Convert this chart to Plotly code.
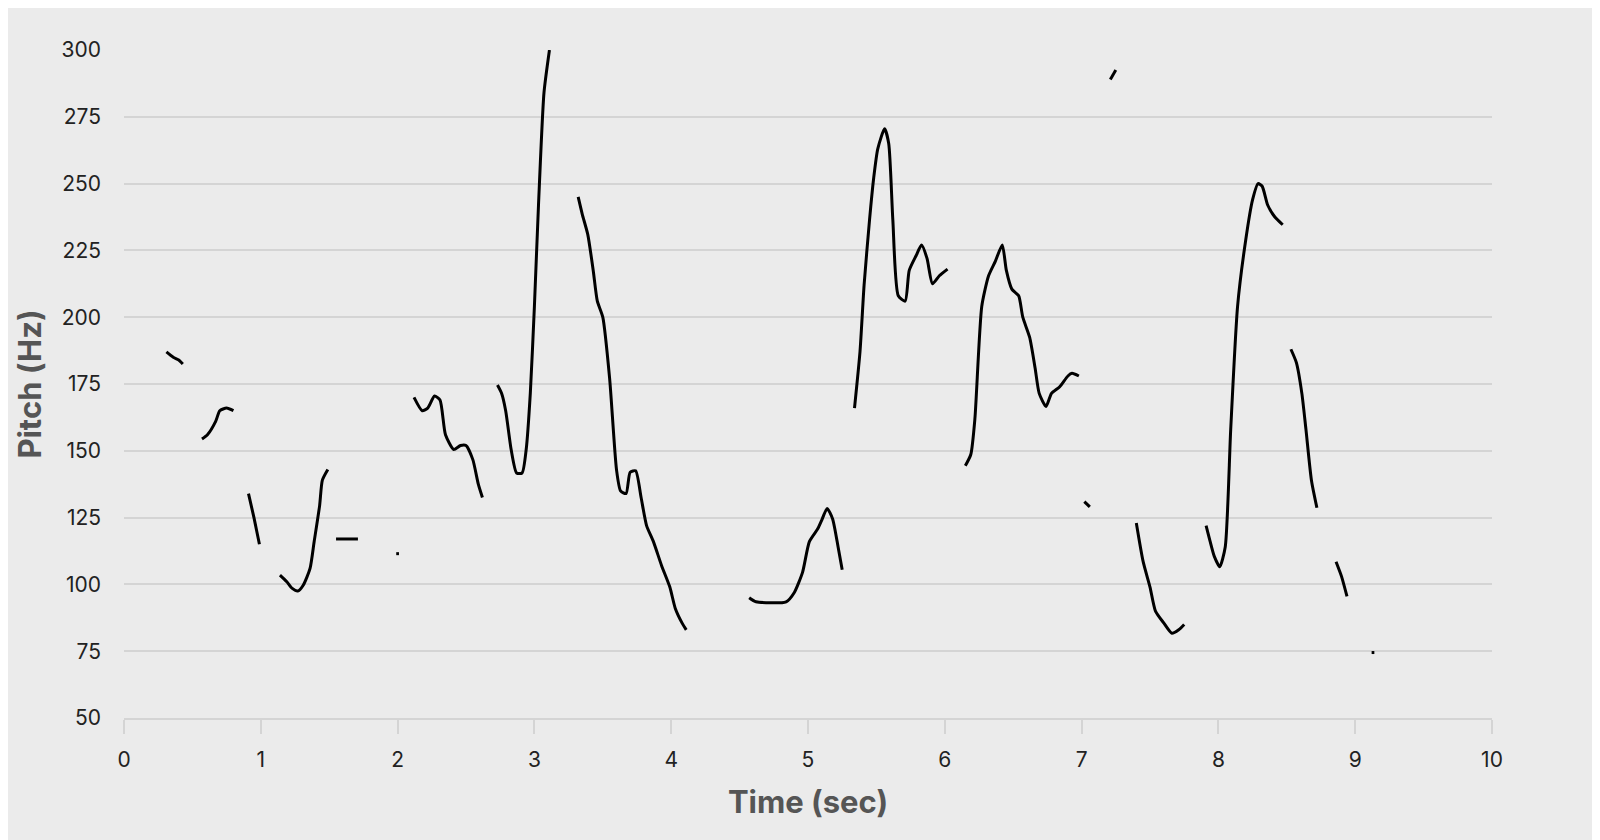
import plotly.graph_objects as go

# pitch contour segments (time in sec, pitch in Hz); None separates voiced runs
t_segments = [
    [0.31, 0.36, 0.40, 0.43],
    [0.57, 0.61, 0.67, 0.70, 0.75, 0.80],
    [0.91, 0.95, 0.97, 0.99],
    [1.14, 1.19, 1.23, 1.27, 1.31, 1.36, 1.39, 1.43, 1.45, 1.49],
    [1.55, 1.71],
    [1.99, 2.01],
    [2.12, 2.18, 2.22, 2.27, 2.31, 2.35, 2.41, 2.46, 2.50, 2.55, 2.59, 2.62],
    [2.73, 2.76, 2.79, 2.83, 2.87, 2.91, 2.94, 2.97, 3.00, 3.03, 3.07, 3.11],
    [3.32, 3.35, 3.39, 3.43, 3.46, 3.50, 3.55, 3.60, 3.63, 3.67, 3.70, 3.74,
     3.78, 3.82, 3.87, 3.93, 3.99, 4.03, 4.08, 4.11],
    [4.57, 4.62, 4.84, 4.90, 4.96, 5.01, 5.07, 5.10, 5.14, 5.18, 5.22, 5.25],
    [5.34, 5.38, 5.41, 5.45, 5.48, 5.51, 5.56, 5.59, 5.62, 5.66, 5.71, 5.74,
     5.79, 5.83, 5.87, 5.91, 5.96, 6.02],
    [6.15, 6.19, 6.22, 6.27, 6.32, 6.37, 6.42, 6.45, 6.49, 6.54, 6.57, 6.62,
     6.66, 6.69, 6.74, 6.78, 6.84, 6.90, 6.93, 6.98],
    [7.02, 7.06],
    [7.21, 7.25],
    [7.40, 7.45, 7.50, 7.54, 7.60, 7.66, 7.71, 7.75],
    [7.91, 7.94, 7.97, 8.01, 8.05, 8.09, 8.14, 8.20, 8.25, 8.29, 8.32, 8.36,
     8.41, 8.47],
    [8.53, 8.57, 8.61, 8.64, 8.68, 8.72],
    [8.86, 8.90, 8.94],
    [9.12, 9.14],
]
f_segments = [
    [187, 185, 184, 182.5],
    [154.4, 156, 161, 165, 166, 165],
    [134, 125, 120, 115],
    [103.5, 101, 98.5, 97.5, 99.7, 106, 116, 129.5, 139, 143],
    [117, 117],
    [111.5, 111.5],
    [170, 165, 166, 170.5, 169, 156, 150.5, 152, 152, 146.7, 137.5, 132.5],
    [174.6, 171.5, 165, 150.5, 141.7, 141.7, 150.5, 171.5, 204, 242, 284, 300],
    [245, 238.5, 231, 217.5, 206, 200, 177, 143, 135, 134, 142, 142.5,
     132.5, 122, 116, 107, 99, 91, 85.5, 83],
    [95, 93.5, 93.5, 97, 104.5, 116, 120.7, 124, 128.4, 124.5, 114, 105.5],
    [166, 187, 212, 236.5, 252, 263, 270.5, 265, 236.5, 208, 206, 217.5,
     223, 227, 222, 212.5, 215.5, 218],
    [144.4, 148.6, 162, 204, 215.5, 221, 227, 217.5, 210.5, 208, 200, 192.5,
     181, 171.5, 166.6, 171.5, 174, 178, 179, 178],
    [131, 129],
    [289, 292.5],
    [123, 108.5, 99, 90, 85.6, 81.7, 83, 85],
    [122, 116, 110.5, 106.6, 114, 158, 204, 229, 244, 250, 249, 242,
     237.7, 234.6],
    [188, 183, 171.5, 158, 139, 128.7],
    [108.5, 103, 95.5],
    [74.5, 74.5],
]

t, f = [], []
for ts, fs in zip(t_segments, f_segments):
    t += ts + [None]
    f += fs + [None]

fig = go.Figure(go.Scatter(x=t, y=f, mode="lines", connectgaps=False,
                           line=dict(color="black", width=3, shape="spline",
                                     smoothing=0.6)))

fig.update_layout(
    width=1600, height=840,
    paper_bgcolor="#ebebeb", plot_bgcolor="#ebebeb",
    margin=dict(l=116, r=116, t=42, b=130),
    showlegend=False,
    font=dict(family="Inter, Roboto, sans-serif", size=21, color="#222"),
)
fig.update_xaxes(range=[0, 10], dtick=1, showgrid=False, zeroline=False,
                 showline=True, linecolor="#d4d4d4", linewidth=2,
                 ticks="outside", tickcolor="#d4d4d4", ticklen=14, tickwidth=2,
                 ticklabelstandoff=8,
                 title=dict(text="<b>Time (sec)</b>", standoff=20,
                            font=dict(size=31, color="#555")))
fig.update_yaxes(range=[50, 300], dtick=25, showgrid=True, gridcolor="#d4d4d4",
                 gridwidth=2, zeroline=False, ticklabelstandoff=22,
                 title=dict(text="<b>Pitch (Hz)</b>",
                            font=dict(size=31, color="#555"), standoff=10))

fig.write_html("out.html")
